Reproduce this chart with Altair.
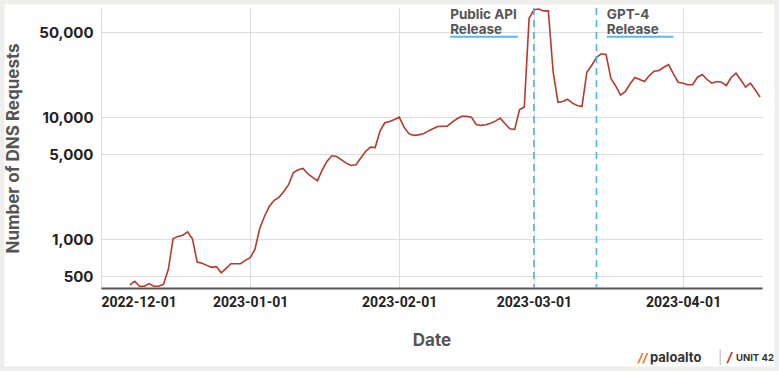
import altair as alt
import pandas as pd

# ---- data ----
start_date = "2022-12-07"
requests = [
    424, 454, 413, 413, 435, 413, 413, 430, 569, 1019,
    1058, 1084, 1156, 1013, 653, 637, 613, 591, 598, 533,
    580, 633, 633, 633, 674, 709, 829, 1230, 1550, 1870,
    2093, 2215, 2477, 2811, 3543, 3726, 3817, 3456, 3226, 3033,
    3726, 4374, 4850, 4787, 4496, 4226, 4044, 4097, 4648, 5262,
    5712, 5668, 7730, 9056, 9280, 9640, 10060, 8335, 7364, 7133,
    7200, 7364, 7730, 8087, 8444, 8470, 8480, 9165, 9759, 10250,
    10250, 10060, 8775, 8610, 8720, 8985, 9330, 9875, 8875, 8087,
    7980, 11560, 12180, 65000, 76400, 77500, 74800, 74800, 23500, 13340,
    13520, 14120, 13100, 12540, 12310, 23500, 26680, 31040, 33270, 32830,
    20950, 18130, 15240, 16270, 18890, 21280, 20480, 19730, 22090, 23970,
    24270, 25830, 27180, 22810, 19470, 19100, 18530, 18570, 21390, 22510,
    20480, 19100, 19730, 19470, 18290, 21280, 23070, 20370, 17720, 19100,
    16870, 14670,
]
release_dates = ["2023-03-01T00:00:00", "2023-03-14T00:00:00"]
release_labels = ["Public API\nRelease", "GPT-4\nRelease"]
label_starts = ["2023-02-11T14:00:00", "2023-03-16T04:00:00"]
label_ends = ["2023-02-25T16:00:00", "2023-03-30T00:00:00"]
label_top = [79000, 79000]
underline_level = [46000, 46000]
y_ticks = [500, 1000, 5000, 10000, 50000]
x_tick_months = [(2022, 12), (2023, 1), (2023, 2), (2023, 3), (2023, 4)]

dates = pd.date_range(start_date, periods=len(requests), freq="D")
df = pd.DataFrame({"date": dates, "requests": requests})
rel = pd.DataFrame({
    "date": pd.to_datetime(release_dates),
    "label": release_labels,
    "start": pd.to_datetime(label_starts),
    "end": pd.to_datetime(label_ends),
    "top": label_top,
    "under": underline_level,
})

x_scale = alt.Scale(domain=[alt.DateTime(year=2022, month=12, date=1),
                            alt.DateTime(year=2023, month=4, date=17, hours=10)])
y_scale = alt.Scale(type="log", domain=[400, 79000], nice=False)

x_axis = alt.Axis(
    values=[alt.DateTime(year=y, month=m, date=1) for y, m in x_tick_months],
    format="%Y-%m-%d", grid=True, gridColor="#dedede", ticks=False,
    domainColor="#555555", domainWidth=2,
    labelFont="Roboto", labelFontWeight="bold", labelFontSize=14,
    labelColor="#222222", labelPadding=7,
    title="Date", titleFont="Inter", titleFontWeight="bold", titleFontSize=17,
    titleColor="#555555", titlePadding=23,
)
y_axis = alt.Axis(
    values=y_ticks, format=",d", grid=True, gridColor="#dedede",
    ticks=False, domain=False,
    labelFont="Inter", labelFontWeight="bold", labelFontSize=15,
    labelColor="#222222", labelPadding=8,
    title="Number of DNS Requests", titleFont="Inter", titleFontWeight="bold",
    titleFontSize=17, titleColor="#555555", titlePadding=16,
)

frame = alt.Chart(pd.DataFrame({"k": [0]})).mark_rect(
    filled=False, stroke="#eeeeec", strokeWidth=9
).encode(x=alt.value(-101), x2=alt.value(678), y=alt.value(-8), y2=alt.value(363))

line = alt.Chart(df).mark_line(color="#b8392b", strokeWidth=1.6).encode(
    x=alt.X("date:T", scale=x_scale, axis=x_axis),
    y=alt.Y("requests:Q", scale=y_scale, axis=y_axis),
)

dashes = alt.Chart(rel).mark_rule(
    color="#4db3e6", strokeDash=[7, 5], strokeWidth=1.6
).encode(x="date:T")

labels = alt.Chart(rel).mark_text(
    align="left", baseline="top", font="Inter", fontWeight="bold",
    fontSize=13.5, color="#555555", lineBreak="\n", lineHeight=15, dy=0
).encode(x="start:T", y="top:Q", text="label:N")

underlines = alt.Chart(rel).mark_rule(color="#5bb8ea", strokeWidth=2).encode(
    x="start:T", x2="end:T", y="under:Q"
)

def logo(txt, x, size, color, weight="bold", align="left", style="normal"):
    return alt.Chart(pd.DataFrame({"t": [txt]})).mark_text(
        align=align, baseline="middle", font="Inter", fontWeight=weight,
        fontSize=size, color=color, fontStyle=style
    ).encode(x=alt.value(x), y=alt.value(350), text="t:N")

logos = [
    logo("//", 537, 12, "#f26b21", style="italic"),
    logo("paloalto", 549, 13, "#333333"),
    logo("|", 617, 13, "#bbbbbb", weight="normal"),
    logo("/", 626, 13, "#e0262b", style="italic"),
    logo("UNIT 42", 635, 9.5, "#333333"),
]

chart = alt.layer(frame, line, dashes, labels, underlines, *logos).properties(
    width=661, height=280,
    autosize=alt.AutoSizeParams(type="none"),
    padding={"left": 101, "top": 8, "right": 17, "bottom": 83},
    background="white",
).configure_view(stroke=None)

chart.save("out.html", embed_options={"renderer": "svg", "actions": False})
